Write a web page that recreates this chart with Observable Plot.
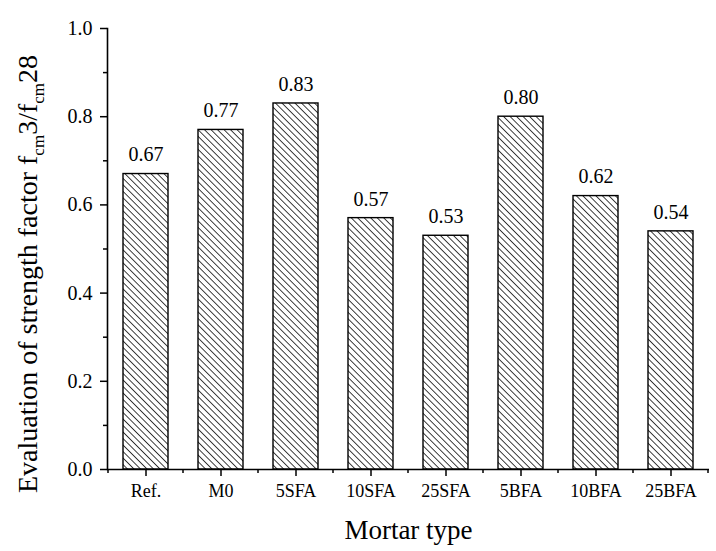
<!DOCTYPE html>
<html>
<head>
<meta charset="utf-8">
<script src="https://cdn.jsdelivr.net/npm/d3@7"></script>
<script src="https://cdn.jsdelivr.net/npm/@observablehq/plot@0.6"></script>
<style>
  html, body { margin: 0; padding: 0; background: white; }
  #chart svg { display: block; }
</style>
</head>
<body>
<div id="chart"></div>
<script>
const categories = ["Ref.", "M0", "5SFA", "10SFA", "25SFA", "5BFA", "10BFA", "25BFA"];
const values = [0.67, 0.77, 0.83, 0.57, 0.53, 0.80, 0.62, 0.54];
const yMajorTicks = [0, 0.2, 0.4, 0.6, 0.8, 1.0];
const yMinorTicks = [0.1, 0.3, 0.5, 0.7, 0.9];
const xTitle = "Mortar type";
const yTitleParts = [
  {text: "Evaluation of strength factor f", sub: false},
  {text: "cm", sub: true},
  {text: "3/f", sub: false},
  {text: "cm", sub: true},
  {text: "28", sub: false}
];

const data = categories.map((c, i) => ({cat: c, value: values[i]}));
const serif = "'Liberation Serif', 'Times New Roman', 'DejaVu Serif', serif";

const chart = Plot.plot({
  width: 716,
  height: 551,
  marginLeft: 107,
  marginRight: 7,
  marginTop: 28,
  marginBottom: 82,
  style: {fontFamily: serif, background: "white", color: "black"},
  x: {domain: categories, paddingInner: 0.4, paddingOuter: 0.2, align: 0.5},
  y: {domain: [0, 1]},
  marks: [
    Plot.barY(data, {x: "cat", y: "value", fill: "url(#hatch)", stroke: "black", strokeWidth: 1.4}),
    Plot.text(data, {x: "cat", y: "value", text: d => d.value.toFixed(2), dy: -19, fontSize: 20, fill: "black"}),
    Plot.axisY({ticks: yMajorTicks, tickFormat: d => d.toFixed(1), tickSize: 7, tickPadding: 8, fontSize: 20, label: null, strokeWidth: 1.5}),
    Plot.axisY({ticks: yMinorTicks, tickFormat: () => "", tickSize: 4, label: null, strokeWidth: 1.5}),
    Plot.axisX({tickSize: 7, tickPadding: 8, fontSize: 18, label: null, strokeWidth: 1.5}),
    Plot.ruleY([0], {strokeWidth: 1.6}),
    Plot.frame({anchor: "left", strokeWidth: 1.6}),
    Plot.text([xTitle], {frameAnchor: "bottom", lineAnchor: "middle", dy: 61, fontSize: 27, fill: "black"})
  ]
});

document.getElementById("chart").appendChild(chart);

const svg = d3.select(chart);
// hatch pattern
const defs = svg.insert("defs", ":first-child");
const pat = defs.append("pattern")
  .attr("id", "hatch")
  .attr("patternUnits", "userSpaceOnUse")
  .attr("width", 10)
  .attr("height", 4.6)
  .attr("patternTransform", "rotate(45)");
pat.append("rect").attr("width", 10).attr("height", 4.6).attr("fill", "white");
pat.append("line").attr("x1", 0).attr("x2", 10).attr("y1", 2.3).attr("y2", 2.3)
  .attr("stroke", "#222").attr("stroke-width", 0.9);

// minor x ticks at band boundaries
const xs = chart.scale("x");
const ys = chart.scale("y");
const gap = (xs.step - xs.bandwidth) / 2;
const bounds = categories.map(c => xs.apply(c) - gap);
bounds.push(xs.apply(categories[categories.length - 1]) + xs.bandwidth + gap);
const y0 = ys.apply(0);
svg.append("g").attr("stroke", "black").attr("stroke-width", 1.5)
  .selectAll("line").data(bounds).join("line")
  .attr("x1", d => d).attr("x2", d => d)
  .attr("y1", y0).attr("y2", y0 + 4);

// y title with subscripts
const yt = svg.append("text")
  .attr("transform", "translate(37,274) rotate(-90)")
  .attr("text-anchor", "middle")
  .attr("font-family", serif)
  .attr("font-size", 28)
  .attr("fill", "black");
yTitleParts.forEach((p, i) => {
  const prevSub = i > 0 && yTitleParts[i - 1].sub;
  const t = yt.append("tspan").text(p.text);
  if (p.sub) t.attr("font-size", 17).attr("dy", 7);
  else if (prevSub) t.attr("dy", -7);
});
</script>
</body>
</html>
